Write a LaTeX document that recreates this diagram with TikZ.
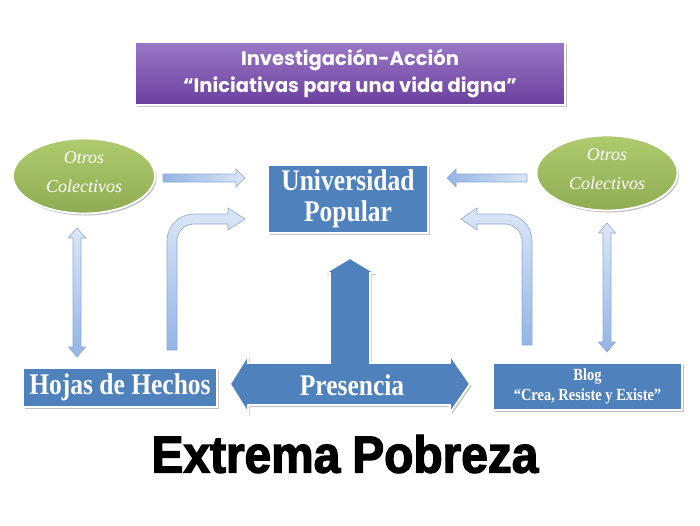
\documentclass[tikz,border=0pt]{standalone}
\usepackage{fontspec}
\setmainfont{Liberation Serif}
\newfontfamily\condfont[FakeStretch=0.85]{Liberation Serif Bold}
\newfontfamily\titlefont{Poppins}
\newfontfamily\heavyfont[FakeStretch=0.92,FakeBold=2.5]{Liberation Sans Bold}
\usetikzlibrary{shapes.geometric,shadows}
\definecolor{ublue}{HTML}{4F81BD}
\definecolor{ugreen}{HTML}{9BBB59}
\definecolor{ugreenlt}{HTML}{AFCB6E}
\definecolor{upurplelt}{HTML}{9A78C6}
\definecolor{upurpledk}{HTML}{6A3F9E}
\definecolor{ltarrowa}{HTML}{DCE7F7}
\definecolor{ltarrowb}{HTML}{93B4E4}
\definecolor{ltarrowline}{HTML}{8CAAD8}
\tikzset{
  shad/.style={drop shadow={shadow xshift=1.5pt,shadow yshift=-2pt,opacity=0.35,fill=black!70}},
  bluebox/.style={rectangle, fill=ublue, draw=white, line width=1.8pt, shad, text=white, align=center, inner sep=0pt},
  greenell/.style={ellipse, top color=ugreenlt, bottom color=ugreen!92!black, draw=white, line width=1.8pt, shad, text=white, align=center, inner sep=0pt},
  titlebox/.style={rectangle, top color=upurplelt, bottom color=upurpledk, draw=white, line width=1.2pt, shad, text=white, align=center, inner sep=0pt},
  lightarrow/.style={top color=ltarrowa, bottom color=ltarrowb, draw=ltarrowline, line width=0.6pt, line join=miter},
  lightarrowh/.style={left color=ltarrowb, right color=ltarrowa, draw=ltarrowline, line width=0.6pt, line join=miter},
  bigarrow/.style={fill=ublue, draw=white, line width=1.8pt, line join=miter, shad},
}
\begin{document}
\begin{tikzpicture}[x=1pt,y=-1pt]
\useasboundingbox (0,0) rectangle (700,525);

% title
\node[titlebox, minimum width=430pt, minimum height=63pt,
  font=\titlefont\bfseries\fontsize{19.5}{27}\selectfont] (title) at (350,73.5)
  {Investigación-Acción\\ “Iniciativas para una vida digna”};

% ellipses
\node[greenell, minimum width=142pt, minimum height=75pt, text depth=8pt,
  font=\itshape\fontsize{18}{29}\selectfont] (otrosL) at (84,176)
  {Otros\\ Colectivos};
\node[greenell, minimum width=141pt, minimum height=75pt, text depth=8pt,
  font=\itshape\fontsize{18}{29}\selectfont] (otrosR) at (607,173)
  {Otros\\ Colectivos};

% boxes
\node[bluebox, minimum width=160pt, minimum height=68pt,
  font=\condfont\fontsize{30}{31}\selectfont] (univ) at (348,199)
  {Universidad\\ Popular};
\node[bluebox, minimum width=194pt, minimum height=39pt,
  font=\condfont\fontsize{30}{30}\selectfont] (hojas) at (120,387.5)
  {Hojas de Hechos};
\node[bluebox, minimum width=189pt, minimum height=47pt,
  font=\condfont\fontsize{17}{20}\selectfont] (blog) at (587.5,386.5)
  {Blog\\ “Crea, Resiste y Existe”};

% big T arrow (Presencia)
\draw[bigarrow] (230,384) -- (248,355) -- (248,363) -- (330,363) -- (330,273) -- (325,273)
  -- (350,258) -- (375,273) -- (370,273) -- (370,363) -- (450,363) -- (450,355)
  -- (470,384) -- (450,413) -- (450,405) -- (248,405) -- (248,413) -- cycle;
\node[text=white, font=\condfont\fontsize{30}{32}\selectfont] (pres) at (352,385) {Presencia};

% straight horizontal arrows
\draw[lightarrowh] (163,174) -- (236,174) -- (236,169) -- (245,178) -- (236,187) -- (236,182) -- (163,182) -- cycle;
\draw[lightarrowh] (527,174) -- (456,174) -- (456,169) -- (447,178) -- (456,187) -- (456,182) -- (527,182) -- cycle;

% vertical double arrows
\draw[lightarrow] (77,228) -- (85.5,238) -- (81,238) -- (81,347) -- (85.5,347) -- (77,357)
  -- (68.5,347) -- (73,347) -- (73,238) -- (68.5,238) -- cycle;
\draw[lightarrow] (607,223) -- (615.5,233) -- (611,233) -- (611,342) -- (615.5,342) -- (607,352)
  -- (598.5,342) -- (603,342) -- (603,233) -- (598.5,233) -- cycle;

% bent arrows
\draw[lightarrow] (167,350) -- (167,241) .. controls (167,226.1) and (179.1,214) .. (194,214)
  -- (228,214) -- (228,208) -- (245,219) -- (228,230) -- (228,224) -- (194,224)
  .. controls (184.6,224) and (177,231.6) .. (177,241) -- (177,350) -- cycle;
\draw[lightarrow] (532,345) -- (532,241) .. controls (532,226.1) and (519.9,214) .. (505,214)
  -- (477,214) -- (477,208) -- (461,219) -- (477,230) -- (477,224) -- (505,224)
  .. controls (514.4,224) and (522,231.6) .. (522,241) -- (522,345) -- cycle;

% bottom title
\node[font=\heavyfont\fontsize{52}{54}\selectfont] (pobreza) at (345,454) {Extrema\hspace{12pt}Pobreza};
\end{tikzpicture}
\end{document}
